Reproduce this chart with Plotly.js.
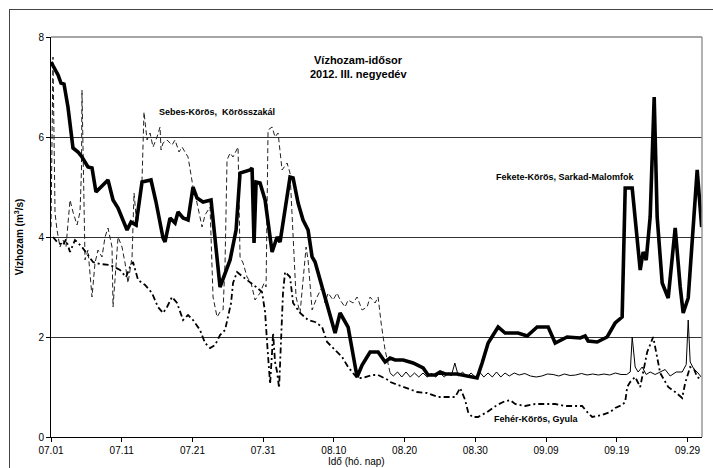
<!DOCTYPE html>
<html><head><meta charset="utf-8">
<script src="https://cdn.plot.ly/plotly-3.0.1.min.js"></script>
<style>
html,body{margin:0;padding:0;background:#fff;overflow:hidden;}
#frame{position:absolute;left:9px;top:9px;width:760px;height:520px;border:1.5px solid #444;box-sizing:border-box;pointer-events:none;z-index:5;}
#chart{position:absolute;left:0;top:0;width:713px;height:468px;}
</style></head>
<body>
<div id="chart"></div>
<div id="frame"></div>
<script>
// x = days since 07.01 (2012), y = discharge m3/s
const tickDays = [0,10,20,30,40,50,60,70,80,90];
const tickLabels = ["07.01","07.11","07.21","07.31","08.10","08.20","08.30","09.09","09.19","09.29"];

const feketeX = [0,1.0,1.41,1.84,2.4,3.11,3.82,4.38,5.23,5.8,6.36,8.06,8.77,9.48,10.75,11.32,12.02,12.87,14.14,14.85,15.84,16.12,16.83,17.54,17.96,18.67,19.38,20.08,20.65,21.5,22.63,23.9,25.32,26.17,26.73,28.15,28.43,28.71,29.0,29.56,30.27,31.26,31.97,32.39,33.8,34.23,34.94,35.64,36.35,36.92,37.34,38.75,39.46,40.17,40.88,42.01,43.28,43.99,45.12,46.25,47.24,47.95,48.66,49.79,51.2,52.62,53.32,54.31,55.02,55.73,57.43,60.25,60.96,61.81,63.22,64.21,66.05,67.33,68.74,70.3,71.29,72.98,74.82,75.53,75.95,77.23,78.64,79.77,80.76,81.19,82.18,83.31,83.73,84.16,84.72,85.29,85.71,86.42,87.27,88.26,88.97,89.39,90.1,91.37,92.0];
const feketeY = [7.5,7.24,7.08,7.06,6.6,5.78,5.7,5.6,5.4,5.38,4.9,5.14,4.74,4.58,4.14,4.3,4.24,5.1,5.14,4.7,3.98,3.9,4.38,4.28,4.5,4.38,4.34,5.0,4.78,4.7,4.74,3.0,3.54,4.14,5.28,5.34,5.38,3.88,5.1,5.08,4.74,3.7,4.0,3.9,5.2,5.18,4.68,4.34,4.14,3.6,3.5,2.8,2.4,2.08,2.48,2.2,1.2,1.44,1.7,1.7,1.5,1.58,1.54,1.54,1.48,1.38,1.24,1.24,1.3,1.26,1.26,1.18,1.48,1.88,2.2,2.08,2.08,2.02,2.2,2.2,1.88,2.0,1.98,2.02,1.92,1.9,2.0,2.28,2.4,4.98,4.98,3.34,3.7,3.54,4.4,6.8,4.4,3.08,2.78,4.18,3.0,2.48,2.78,5.34,4.2];

const sebesDashX = [0,0.28,0.57,0.85,1.27,1.7,2.12,2.69,3.11,3.68,4.1,4.31,4.38,4.53,4.81,5.23,5.8,6.22,6.65,7.21,7.64,8.06,8.63,8.77,9.19,9.48,10.04,10.47,10.89,11.46,11.74,12.16,12.87,13.15,13.58,14.0,14.43,14.99,15.42,15.56,15.84,16.41,17.11,17.54,18.1,18.53,18.95,19.38,20.08,20.65,21.36,21.78,22.49,22.91,23.48,23.9,24.33,24.61,24.89,25.32,25.74,26.31,26.45,26.73,27.16,27.72,28.29,28.85,29.56,30.13,30.41,30.69,31.26,31.68,32.11,32.67,33.38,33.8,34.23,34.65,35.22,35.64,36.07,36.35,36.92,37.62,38.33,38.75,39.18,39.89,40.45,40.88,41.58,42.01,42.72,43.28,43.99,44.7,45.12,45.83,46.25,46.68,47.24,47.95];
const sebesDashY = [4.2,7.6,4.48,4.14,3.8,3.94,3.8,4.74,4.5,4.24,4.5,5.34,6.94,5.8,3.54,3.74,2.8,3.48,3.74,3.6,4.0,4.18,3.8,2.6,3.48,4.0,3.8,3.48,3.08,3.6,4.88,4.2,5.14,6.5,5.94,6.08,5.8,6.0,6.2,5.74,5.88,5.94,5.84,5.94,5.7,5.8,5.7,5.6,5.0,4.68,4.2,4.44,4.6,2.8,2.4,2.5,2.54,3.48,5.54,5.68,5.6,5.74,5.8,3.6,3.48,3.2,3.08,2.74,2.88,3.08,3.0,6.14,6.2,6.0,6.08,5.34,5.48,5.28,4.14,2.8,2.48,3.08,3.8,3.54,2.54,2.8,3.0,2.68,2.88,2.74,2.88,2.74,2.6,2.74,2.68,2.8,2.54,2.6,2.8,2.68,2.8,2.28,1.74,1.28];

const sebesSolidX = [47.95,48.4,49.0,49.6,50.2,50.8,51.4,52.0,52.6,53.2,53.8,54.4,55.0,55.6,56.2,56.6,57.1,57.6,58.2,58.8,59.4,60.0,60.6,61.2,61.8,62.4,63.0,63.6,64.2,64.8,65.5,66.2,67.0,67.8,68.6,69.4,70.2,71.0,71.8,72.6,73.4,74.2,75.0,75.8,76.6,77.4,78.2,79.0,79.8,80.6,81.4,81.9,82.18,82.6,83.02,83.59,84.16,84.72,85.43,86.14,86.84,87.55,88.4,89.25,89.82,90.1,90.38,90.94,91.37,91.94];
const sebesSolidY = [1.28,1.22,1.3,1.2,1.3,1.2,1.28,1.2,1.28,1.2,1.27,1.2,1.28,1.2,1.28,1.22,1.48,1.22,1.3,1.2,1.28,1.2,1.3,1.2,1.28,1.2,1.3,1.2,1.28,1.22,1.28,1.24,1.27,1.22,1.2,1.22,1.26,1.25,1.22,1.26,1.23,1.24,1.27,1.24,1.26,1.24,1.26,1.24,1.28,1.25,1.25,1.3,2.0,1.4,1.3,1.4,1.25,1.3,1.25,1.3,1.35,1.22,1.3,1.3,1.45,2.34,1.5,1.35,1.3,1.2];

const feherX = [0.28,0.99,1.7,2.12,2.69,3.39,4.38,5.23,5.94,6.93,8.35,9.76,10.61,11.17,11.6,12.31,13.3,14.28,15.13,15.84,16.41,17.11,17.82,18.67,19.38,20.08,21.07,21.78,22.49,23.2,23.9,24.61,25.04,25.46,25.74,26.31,27.16,28.15,29.0,29.84,30.27,30.55,30.69,30.98,31.26,31.4,31.68,31.97,32.25,32.53,32.81,33.1,33.8,34.23,35.22,36.35,37.34,38.33,39.04,40.17,41.16,42.01,43.28,43.99,45.4,46.25,47.67,47.95,49.79,51.77,53.18,54.74,57.14,57.85,58.56,58.98,59.55,60.39,61.67,63.08,63.93,64.92,65.63,67.04,68.46,69.87,71.29,72.7,75.1,75.81,76.52,77.93,79.06,79.77,80.76,81.19,81.47,81.89,82.6,83.31,84.3,85.15,85.71,86.14,87.27,88.26,89.25,89.67,90.38,90.94,91.37,91.94];
const feherY = [4.0,3.88,3.84,3.95,3.7,3.94,3.8,3.64,3.5,3.46,3.44,3.34,3.2,3.4,3.5,3.14,3.04,2.88,2.6,2.48,2.6,2.8,2.68,2.34,2.44,2.34,2.14,1.88,1.78,1.84,2.04,2.14,2.4,2.68,3.08,3.3,3.2,3.1,3.0,2.9,2.5,1.9,1.6,1.06,1.7,2.08,1.5,1.3,0.98,1.9,2.9,3.3,3.2,2.68,2.48,2.34,2.3,2.2,1.9,1.74,1.6,1.4,1.18,1.18,1.24,1.24,1.14,1.1,1.0,0.9,0.88,0.8,0.8,0.98,0.74,0.5,0.4,0.4,0.5,0.64,0.7,0.74,0.66,0.62,0.66,0.66,0.66,0.62,0.62,0.5,0.4,0.44,0.5,0.58,0.64,0.7,1.0,1.1,1.2,1.0,1.7,2.0,1.6,1.28,1.0,0.9,0.78,1.08,1.4,1.35,1.2,1.15];

const seriesNames = ["Fekete-Körös, Sarkad-Malomfok","Sebes-Körös,  Körösszakál","Fehér-Körös, Gyula"];

const font = "Liberation Sans, Arial, sans-serif";

const traces = [
  {x: sebesDashX, y: sebesDashY, type:'scatter', mode:'lines', name: seriesNames[1],
   line:{color:'#222', width:1, dash:'5px,3px'}, hoverinfo:'skip'},
  {x: sebesSolidX, y: sebesSolidY, type:'scatter', mode:'lines', name: seriesNames[1],
   line:{color:'#000', width:1}, hoverinfo:'skip'},
  {x: feherX, y: feherY, type:'scatter', mode:'lines', name: seriesNames[2],
   line:{color:'#000', width:1.8, dash:'6px,3px,2px,3px'}, hoverinfo:'skip'},
  {x: feketeX, y: feketeY, type:'scatter', mode:'lines', name: seriesNames[0],
   line:{color:'#000', width:3.6}, hoverinfo:'skip'}
];

const layout = {
  width:713, height:468,
  margin:{l:51, r:11, t:37, b:31},
  paper_bgcolor:'#fff', plot_bgcolor:'#fff',
  showlegend:false,
  font:{family:font, size:10, color:'#000'},
  xaxis:{range:[0,92.05], tickvals:tickDays, ticktext:tickLabels, showgrid:false, zeroline:false,
    showline:true, linecolor:'#000', linewidth:1, ticks:'outside', ticklen:4, tickcolor:'#000',
    tickfont:{family:font, size:10, color:'#000'}},
  yaxis:{range:[0,8], tickvals:[0,2,4,6,8], showgrid:true, gridcolor:'#333', gridwidth:1, zeroline:false,
    showline:true, linecolor:'#000', linewidth:1, ticks:'outside', ticklen:4, tickcolor:'#000',
    tickfont:{family:font, size:10, color:'#000'},
    title:{text:'<b>Vízhozam (m<sup>3</sup>/s)</b>', font:{family:font, size:10, color:'#000'}, standoff:12}},
  shapes:[
    {type:'line', xref:'paper', yref:'paper', x0:1, x1:1, y0:0, y1:1, line:{color:'#999', width:1.5}},
    {type:'line', xref:'paper', yref:'paper', x0:0, x1:1, y0:1, y1:1, line:{color:'#888', width:1.5}}
  ],
  annotations:[
    {text:'<b>Vízhozam-idősor</b>', xref:'paper', yref:'paper', x:0.472, y:0.962, showarrow:false, font:{family:font, size:11, color:'#000'}},
    {text:'<b>2012. III. negyedév</b>', xref:'paper', yref:'paper', x:0.472, y:0.927, showarrow:false, font:{family:font, size:11, color:'#000'}},
    {text:'<b>'+seriesNames[1]+'</b>', xref:'x', yref:'y', x:23.5, y:6.5, showarrow:false, font:{family:font, size:9, color:'#000'}},
    {text:'<b>'+seriesNames[0]+'</b>', xref:'x', yref:'y', x:72.8, y:5.2, showarrow:false, font:{family:font, size:9, color:'#000'}},
    {text:'<b>'+seriesNames[2]+'</b>', xref:'x', yref:'y', x:68.6, y:0.36, showarrow:false, font:{family:font, size:9, color:'#000'}},
    {text:'Idő (hó. nap)', xref:'paper', yref:'paper', x:0.47, y:-0.061, yanchor:'middle', showarrow:false, font:{family:font, size:10, color:'#000'}}
  ]
};

Plotly.newPlot('chart', traces, layout, {displayModeBar:false, staticPlot:true});
</script>
</body></html>
